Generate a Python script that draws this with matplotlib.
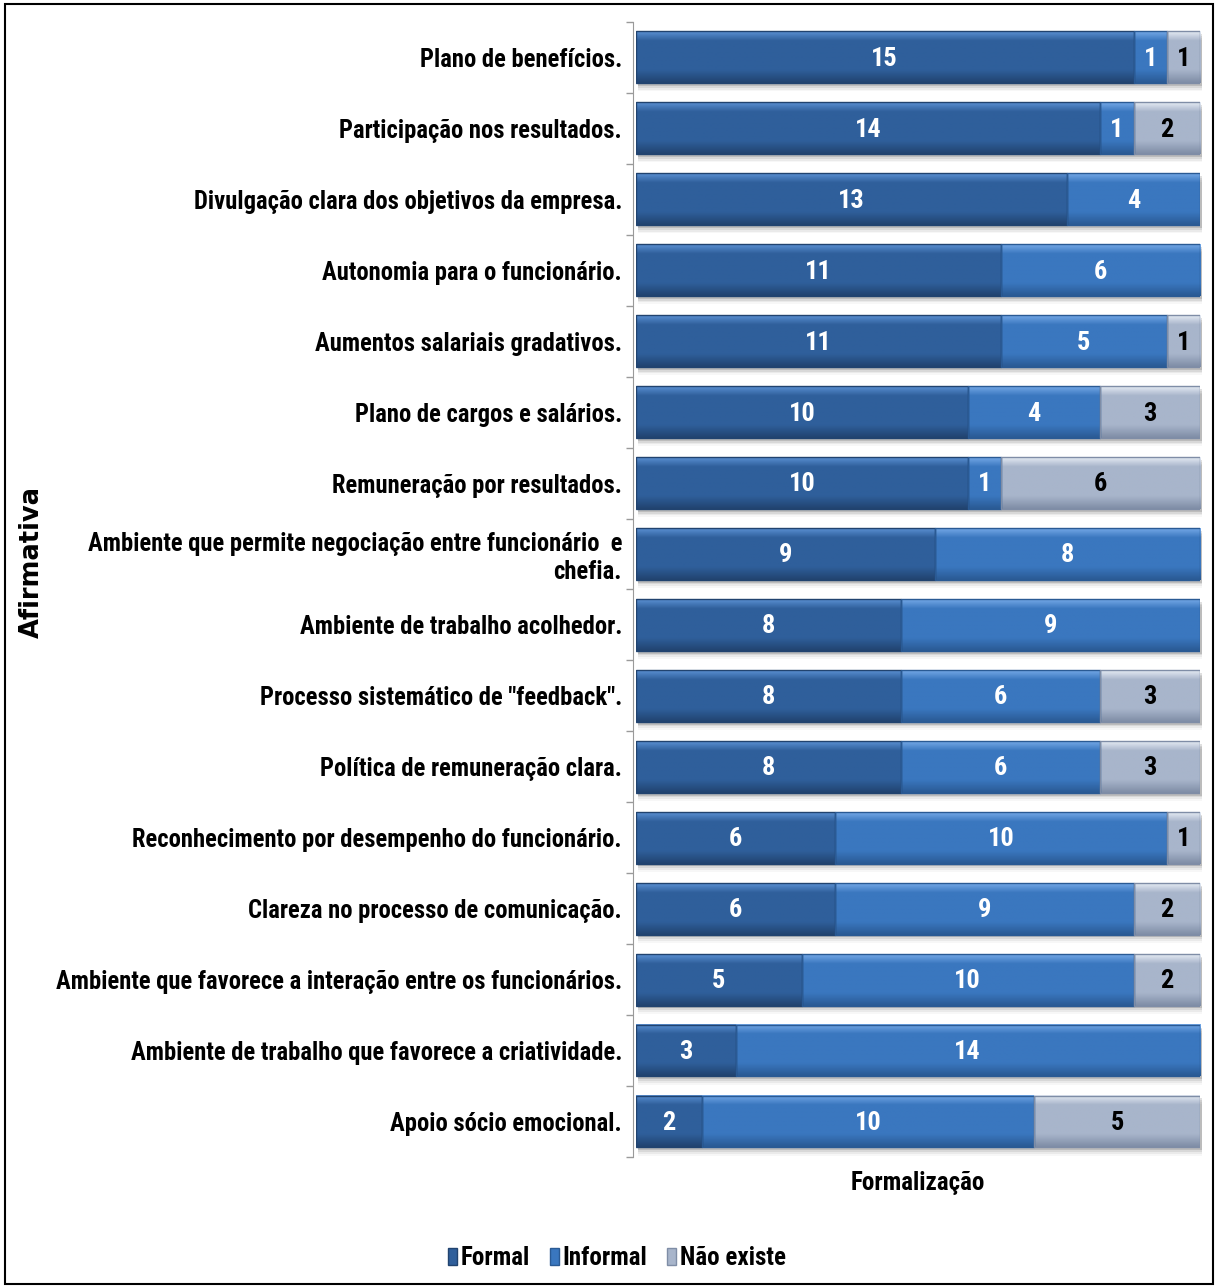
import numpy as np
import matplotlib
matplotlib.use("Agg")
import matplotlib.pyplot as plt
from matplotlib.patches import Rectangle
from matplotlib.colors import to_rgb

plt.rcParams['font.family'] = ['Roboto Condensed', 'DejaVu Sans']
plt.rcParams['font.weight'] = 'bold'

categorias = [
    "Plano de benefícios.",
    "Participação nos resultados.",
    "Divulgação clara dos objetivos da empresa.",
    "Autonomia para o funcionário.",
    "Aumentos salariais gradativos.",
    "Plano de cargos e salários.",
    "Remuneração por resultados.",
    "Ambiente que permite negociação entre funcionário  e\nchefia.",
    "Ambiente de trabalho acolhedor.",
    "Processo sistemático de \"feedback\".",
    "Política de remuneração clara.",
    "Reconhecimento por desempenho do funcionário.",
    "Clareza no processo de comunicação.",
    "Ambiente que favorece a interação entre os funcionários.",
    "Ambiente de trabalho que favorece a criatividade.",
    "Apoio sócio emocional.",
]
formal = [15, 14, 13, 11, 11, 10, 10, 9, 8, 8, 8, 6, 6, 5, 3, 2]
informal = [1, 1, 4, 6, 5, 4, 1, 8, 9, 6, 6, 10, 9, 10, 14, 10]
nao_existe = [1, 2, 0, 0, 1, 3, 6, 0, 0, 3, 3, 1, 2, 2, 0, 5]

series = [("Formal", formal), ("Informal", informal), ("Não existe", nao_existe)]
# (topo, meio, base) de cada gradiente
cores = {
    "Formal": ("#5a8fd2", "#2f5f9b", "#21436f"),
    "Informal": ("#74a8e6", "#3a77bf", "#2a5a94"),
    "Não existe": ("#e4eaf3", "#a8b5cb", "#7f8da6"),
}
cor_texto = {"Formal": "white", "Informal": "white", "Não existe": "black"}


def gradiente(topo, meio, base, n=64):
    t = np.linspace(0, 1, n)
    a, b, c = np.array(to_rgb(topo)), np.array(to_rgb(meio)), np.array(to_rgb(base))
    out = np.empty((n, 1, 3))
    for i, v in enumerate(t):
        if v < 0.18:
            out[i, 0] = a + (b - a) * (v / 0.18)
        elif v < 0.75:
            out[i, 0] = b
        else:
            out[i, 0] = b + (c - b) * ((v - 0.75) / 0.25)
    return out


fig = plt.figure(figsize=(12.17, 12.87), dpi=100)
ax = fig.add_axes([0.5226, 0.101, 0.4634, 0.882])

y = np.arange(len(categorias))
h = 0.73

# sombra por baixo de cada barra
totais = np.array(formal) + np.array(informal) + np.array(nao_existe)
for yi, tot in zip(y, totais):
    for k, alpha in enumerate([0.12, 0.08, 0.05, 0.03]):
        ax.add_patch(Rectangle((0.05, yi - h / 2 + 0.04 + k * 0.025), tot, h,
                               facecolor="black", alpha=alpha, edgecolor="none",
                               zorder=1, clip_on=False))

left = np.zeros(len(categorias))
for nome, vals in series:
    img = gradiente(*cores[nome])
    for yi, l, v in zip(y, left, vals):
        if v == 0:
            continue
        ax.imshow(img, extent=(l, l + v, yi + h / 2, yi - h / 2), aspect="auto",
                  interpolation="bilinear", zorder=2)
        ax.add_patch(Rectangle((l, yi - h / 2), v, h, facecolor="none",
                               edgecolor=cores[nome][2], linewidth=1.0, zorder=3))
        ax.text(l + v / 2, yi + 0.02, str(v), ha="center", va="center",
                color=cor_texto[nome], fontsize=19, fontweight="bold", zorder=4)
    left += np.array(vals)

ax.set_xlim(0, 17)
ax.set_ylim(len(categorias) - 0.5, -0.5)

ax.set_yticks(np.arange(len(categorias) + 1) - 0.5, minor=True)
ax.tick_params(axis="y", which="major", length=0, pad=8, labelsize=17.7)
ax.tick_params(axis="y", which="minor", length=5, color="#9a9a9a", width=1)
ax.set_yticks(y)
ax.set_yticklabels(categorias, fontsize=17.7, fontweight="bold", multialignment="center")
ax.set_xticks([])
for s in ["top", "right", "bottom"]:
    ax.spines[s].set_visible(False)
ax.spines["left"].set_color("#9a9a9a")
ax.spines["left"].set_position(("outward", 2))

ax.set_xlabel("Formalização", fontsize=18, fontweight="bold", labelpad=10)
fig.text(0.026, 0.563, "Afirmativa", rotation=90, ha="center", va="center",
         fontsize=18.5, fontweight="bold", family="DejaVu Sans")

handles = [Rectangle((0, 0), 1, 1, facecolor=cores[n][1], edgecolor=cores[n][2]) for n, _ in series]
fig.legend(handles, [n for n, _ in series], loc="center", bbox_to_anchor=(0.507, 0.0225),
           ncol=3, frameon=False, handlelength=0.35, handleheight=0.7, handletextpad=0.15,
           columnspacing=0.8, prop={"size": 18, "weight": "bold"})

fig.patches.append(Rectangle((5 / 1217, 3 / 1287), 1208 / 1217, 1280 / 1287,
                             transform=fig.transFigure, fill=False,
                             edgecolor="black", linewidth=1.5))

fig.savefig("out.png", dpi=100)
